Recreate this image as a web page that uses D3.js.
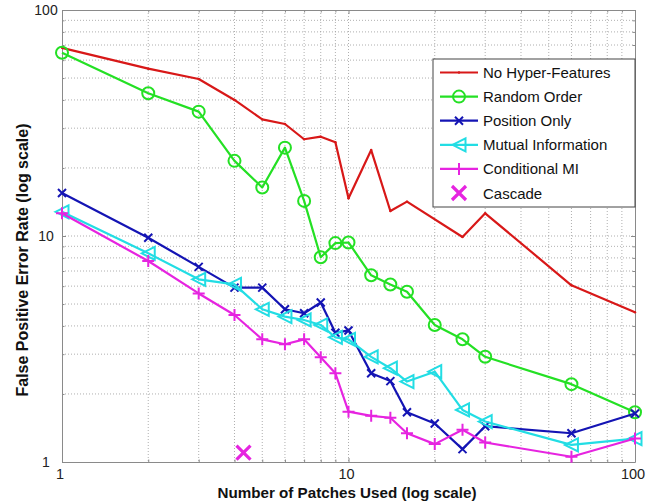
<!DOCTYPE html>
<html>
<head>
<meta charset="utf-8">
<script src="https://cdn.jsdelivr.net/npm/d3@7"></script>
<style>
  html, body { margin: 0; padding: 0; background: #fff; }
  svg { display: block; font-family: "Liberation Sans", Arial, Helvetica, sans-serif; }
</style>
</head>
<body>
<svg id="chart" width="663" height="501"></svg>
<script>
// Patch counts used on the x axis
const patchesFull = [1, 2, 3, 4, 5, 6, 7, 8, 9, 10, 12, 14, 16, 20, 25, 30, 60, 100];
const patchesRed  = [1, 2, 3, 4, 5, 6, 7, 8, 9, 10, 12, 14, 16, 25, 30, 60, 100];

// False positive error rate (%) per method
const noHyper     = [68, 55, 49.5, 40, 32.8, 31.3, 26.8, 27.5, 26, 14.7, 24, 12.9, 14.2, 9.9, 12.6, 6.05, 4.6];
const randomOrder = [64.7, 42.8, 35.5, 21.5, 16.4, 24.6, 14.3, 8.05, 9.3, 9.36, 6.7, 6.1, 5.67, 4.04, 3.49, 2.92, 2.21, 1.66];
const positionOnly = [15.5, 9.83, 7.3, 5.91, 5.91, 4.74, 4.55, 5.08, 3.73, 3.82, 2.47, 2.28, 1.66, 1.48, 1.14, 1.44, 1.34, 1.64];
const mutualInfo  = [12.8, 8.38, 6.43, 6.11, 4.74, 4.40, 4.25, 4.04, 3.56, 3.49, 2.92, 2.60, 2.27, 2.51, 1.70, 1.51, 1.19, 1.27];
const condMI      = [12.6, 7.75, 5.57, 4.47, 3.49, 3.32, 3.49, 2.91, 2.47, 1.67, 1.60, 1.57, 1.34, 1.20, 1.39, 1.22, 1.055, 1.27];
const cascadeX = [4.3];
const cascadeY = [1.1];

const seriesNames = ["No Hyper-Features", "Random Order", "Position Only", "Mutual Information", "Conditional MI", "Cascade"];
const xTickLabels = ["1", "10", "100"];
const yTickLabels = ["1", "10", "100"];

const colors = {
  red: "#d81818",
  green: "#24e024",
  blue: "#1414b4",
  cyan: "#22dde4",
  magenta: "#e624e0"
};

const svg = d3.select("#chart");
const margin = { left: 62, top: 10, right: 28, bottom: 39 };
const W = 663, H = 501;
const pw = W - margin.left - margin.right;
const ph = H - margin.top - margin.bottom;

const x = d3.scaleLog().domain([1, 100]).range([margin.left, margin.left + pw]);
const y = d3.scaleLog().domain([1, 100]).range([margin.top + ph, margin.top]);

// all decade subdivisions 1..100
const allTicks = [];
for (const dec of [1, 10]) for (let k = 1; k <= 9; k++) allTicks.push(dec * k);
allTicks.push(100);
const majorVals = [1, 10, 100];
const isMinor = d => !majorVals.includes(d);

// Dotted grid at major and minor positions
const grid = svg.append("g").attr("class", "grid");
allTicks.slice(1, -1).forEach(v => {
  grid.append("line")
    .attr("x1", x(v)).attr("x2", x(v))
    .attr("y1", margin.top).attr("y2", margin.top + ph)
    .attr("stroke", "#9a9a9a").attr("stroke-width", 0.8).attr("stroke-dasharray", "1,2");
  grid.append("line")
    .attr("x1", margin.left).attr("x2", margin.left + pw)
    .attr("y1", y(v)).attr("y2", y(v))
    .attr("stroke", "#9a9a9a").attr("stroke-width", 0.8).attr("stroke-dasharray", "1,2");
});

// Box axes with inward ticks on all four sides
const mk = (axisFn, scale) => axisFn(scale).tickValues(allTicks).tickSizeInner(-4).tickSizeOuter(0).tickFormat("");
const gx = svg.append("g").attr("transform", `translate(0,${margin.top + ph})`).call(mk(d3.axisBottom, x));
const gy = svg.append("g").attr("transform", `translate(${margin.left},0)`).call(mk(d3.axisLeft, y));
const gxTop = svg.append("g").attr("transform", `translate(0,${margin.top})`).call(mk(d3.axisTop, x));
const gyRight = svg.append("g").attr("transform", `translate(${margin.left + pw},0)`).call(mk(d3.axisRight, y));
[gx, gy, gxTop, gyRight].forEach(g => {
  g.selectAll("path.domain").attr("stroke", "#8a8a8a").attr("stroke-width", 1);
  g.selectAll(".tick line").attr("stroke", "#8a8a8a");
});
// shorter minor ticks
[gx, gxTop].forEach((g, i) => g.selectAll(".tick").filter(isMinor)
  .select("line").attr("y2", i === 0 ? -2.5 : 2.5));
[gy, gyRight].forEach((g, i) => g.selectAll(".tick").filter(isMinor)
  .select("line").attr("x2", i === 0 ? 2.5 : -2.5));

// Tick labels
svg.append("g").selectAll("text").data(majorVals).join("text")
  .attr("x", d => x(d) - 2).attr("y", margin.top + ph + 12)
  .attr("text-anchor", "middle").attr("dominant-baseline", "central")
  .attr("font-size", 14.5).attr("fill", "#222")
  .text((d, i) => xTickLabels[i]);
svg.append("g").selectAll("text").data(majorVals).join("text")
  .attr("x", 46).attr("y", d => y(d))
  .attr("text-anchor", "middle").attr("dominant-baseline", "central")
  .attr("font-size", 14).attr("fill", "#222")
  .text((d, i) => yTickLabels[i]);

// Axis titles
svg.append("text")
  .attr("x", 347).attr("y", 492)
  .attr("text-anchor", "middle").attr("dominant-baseline", "central")
  .attr("font-size", 15.2).attr("font-weight", "bold").attr("fill", "#111")
  .text("Number of Patches Used (log scale)");
svg.append("text")
  .attr("transform", "translate(22,260) rotate(-90)")
  .attr("text-anchor", "middle").attr("dominant-baseline", "central")
  .attr("font-size", 16).attr("font-weight", "bold").attr("fill", "#111")
  .text("False Positive Error Rate (log scale)");

// Marker drawing helpers
function marker(g, type, cx, cy, color) {
  if (type === "circle") {
    g.append("circle").attr("cx", cx).attr("cy", cy).attr("r", 6)
      .attr("fill", "none").attr("stroke", color).attr("stroke-width", 2);
  } else if (type === "x") {
    const s = 4;
    g.append("path").attr("d", `M${cx - s},${cy - s}L${cx + s},${cy + s}M${cx - s},${cy + s}L${cx + s},${cy - s}`)
      .attr("stroke", color).attr("stroke-width", 2).attr("fill", "none");
  } else if (type === "tri") {
    const s = 6.5;
    g.append("path").attr("d", `M${cx - s},${cy}L${cx + s},${cy - s}L${cx + s},${cy + s}Z`)
      .attr("stroke", color).attr("stroke-width", 2).attr("fill", "none");
  } else if (type === "plus") {
    const s = 6;
    g.append("path").attr("d", `M${cx - s},${cy}L${cx + s},${cy}M${cx},${cy - s}L${cx},${cy + s}`)
      .attr("stroke", color).attr("stroke-width", 2).attr("fill", "none");
  } else if (type === "dot") {
    g.append("circle").attr("cx", cx).attr("cy", cy).attr("r", 1.2).attr("fill", color);
  } else if (type === "bigx") {
    const s = 7;
    g.append("path").attr("d", `M${cx - s},${cy - s}L${cx + s},${cy + s}M${cx - s},${cy + s}L${cx + s},${cy - s}`)
      .attr("stroke", color).attr("stroke-width", 3.2).attr("fill", "none");
  }
}

const series = [
  { name: seriesNames[0], xs: patchesRed, ys: noHyper, color: colors.red, m: "dot" },
  { name: seriesNames[1], xs: patchesFull, ys: randomOrder, color: colors.green, m: "circle" },
  { name: seriesNames[2], xs: patchesFull, ys: positionOnly, color: colors.blue, m: "x" },
  { name: seriesNames[3], xs: patchesFull, ys: mutualInfo, color: colors.cyan, m: "tri" },
  { name: seriesNames[4], xs: patchesFull, ys: condMI, color: colors.magenta, m: "plus" }
];

const line = d3.line().x(d => x(d[0])).y(d => y(d[1]));
const plot = svg.append("g");
series.forEach(s => {
  const pts = s.xs.map((v, i) => [v, s.ys[i]]);
  const g = plot.append("g");
  g.append("path").datum(pts).attr("d", line)
    .attr("fill", "none").attr("stroke", s.color).attr("stroke-width", 2.2)
    .attr("stroke-linejoin", "round");
  pts.forEach(p => marker(g, s.m, x(p[0]), y(p[1]), s.color));
});
// Cascade single point
cascadeX.forEach((v, i) => marker(plot, "bigx", x(v), y(cascadeY[i]), colors.magenta));

// Legend
const lg = svg.append("g");
const lx = 433, ly = 59, lw = 202, lh = 148;
lg.append("rect").attr("x", lx).attr("y", ly).attr("width", lw).attr("height", lh)
  .attr("fill", "#fff").attr("stroke", "#444").attr("stroke-width", 1);
const legendItems = series.map(s => ({ name: s.name, color: s.color, m: s.m, line: true }))
  .concat([{ name: seriesNames[5], color: colors.magenta, m: "bigx", line: false }]);
legendItems.forEach((it, i) => {
  const cy = ly + 13.5 + i * 24.1;
  if (it.line) {
    lg.append("line").attr("x1", lx + 7).attr("x2", lx + 45).attr("y1", cy).attr("y2", cy)
      .attr("stroke", it.color).attr("stroke-width", 2.2);
  }
  marker(lg, it.m, lx + 26, cy, it.color);
  lg.append("text").attr("x", lx + 50).attr("y", cy)
    .attr("dominant-baseline", "central").attr("font-size", 15).attr("fill", "#111")
    .text(it.name);
});
</script>
</body>
</html>
